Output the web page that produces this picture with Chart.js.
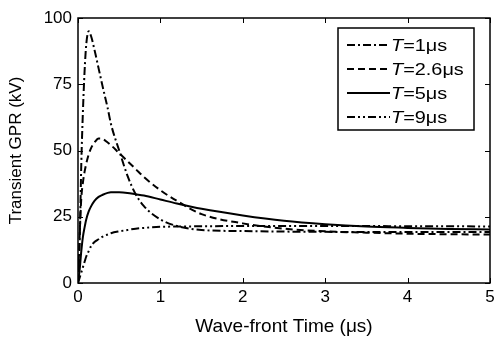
<!DOCTYPE html>
<html>
<head>
<meta charset="utf-8">
<script src="https://cdn.jsdelivr.net/npm/chart.js@4/dist/chart.umd.min.js"></script>
<style>
html,body{margin:0;padding:0;background:#fff;}
#wrap{width:500px;height:350px;}
</style>
</head>
<body>
<div id="wrap"><canvas id="c" width="500" height="350"></canvas></div>
<script>
const times = [0,0.02,0.04,0.06,0.08,0.1,0.13,0.16,0.2,0.25,0.3,0.36,0.4,0.5,0.6,0.7,0.8,1.0,1.2,1.5,2,2.5,3,3.5,4,4.5,5];
const gprT1   = [0,15,45,65,80,90,95,93,88,81,74,66,60,50,40.5,33.5,29,24,21.5,20,19.6,19.4,19.3,19.2,19.2,19.2,19.2];
const gprT2_6 = [0,18,32,38,42,45,48.5,51,53,54.5,54.3,53,52,49,46,43,40,35,31,26,22.5,20.5,19.5,19,18.6,18.4,18.3];
const gprT5   = [0,5,12,17.5,21,24,27,29,31,32.5,33.3,34,34.2,34.2,34,33.5,33,31.5,30,28,25.5,23.5,22.2,21.3,20.8,20.4,20.2];
const gprT9   = [0,2,4,6,8,10,12,14,15.5,16.5,17.5,18.3,18.8,19.5,20,20.5,20.8,21.2,21.3,21.4,21.5,21.5,21.5,21.5,21.4,21.4,21.3];
const seriesNames = ["1\u03BCs","2.6\u03BCs","5\u03BCs","9\u03BCs"];
const xTicks = [0,1,2,3,4,5];
const yTicks = [0,25,50,75,100];

const FONT = "'Liberation Sans', Arial, sans-serif";
function pts(ys){ return times.map((t,i)=>({x:t,y:ys[i]})); }
const dashes = [[8,3,2,3],[7,4],[],[8,3,2,3,2,3]];
const allSeries = [gprT1,gprT2_6,gprT5,gprT9];

const datasets = allSeries.map((s,i)=>({
  label: seriesNames[i],
  data: pts(s),
  borderColor:'#000',
  borderWidth:2,
  borderDash:dashes[i],
  pointRadius:0,
  fill:false,
  cubicInterpolationMode:'monotone'
}));

const frame = {
  id:'frame',
  afterDraw(chart){
    const ctx = chart.ctx;
    const {left,right,top,bottom} = chart.chartArea;
    const xs = chart.scales.x, ys = chart.scales.y;
    ctx.save();
    ctx.strokeStyle='#000';
    ctx.lineWidth=1.5;
    ctx.setLineDash([]);
    ctx.strokeRect(left,top,right-left,bottom-top);
    ctx.lineWidth=1;
    const L=5;
    ctx.beginPath();
    xTicks.forEach(v=>{
      const p=Math.round(xs.getPixelForValue(v))+0.5;
      ctx.moveTo(p,bottom);ctx.lineTo(p,bottom-L);
      ctx.moveTo(p,top);ctx.lineTo(p,top+L);
    });
    yTicks.forEach(v=>{
      const p=Math.round(ys.getPixelForValue(v))+0.5;
      ctx.moveTo(left,p);ctx.lineTo(left+L,p);
      ctx.moveTo(right,p);ctx.lineTo(right-L,p);
    });
    ctx.stroke();
    // legend
    const bx=338,by=28,bw=136,bh=102;
    ctx.fillStyle='#fff';
    ctx.fillRect(bx,by,bw,bh);
    ctx.lineWidth=1.5;
    ctx.strokeRect(bx,by,bw,bh);
    chart.data.datasets.forEach((d,i)=>{
      const y=by+17+i*24;
      ctx.beginPath();
      ctx.lineWidth=2;
      ctx.setLineDash(d.borderDash);
      ctx.moveTo(bx+9,y);ctx.lineTo(bx+52,y);
      ctx.stroke();
      ctx.setLineDash([]);
      ctx.fillStyle='#000';
      ctx.textBaseline='middle';
      ctx.textAlign='left';
      ctx.save();
      ctx.translate(bx+53,y+1);
      ctx.scale(1.17,1);
      ctx.font='italic 17px '+FONT;
      ctx.fillText('T',0,0);
      const tw=ctx.measureText('T').width;
      ctx.font='17px '+FONT;
      ctx.fillText('='+d.label,tw,0);
      ctx.restore();
    });
    ctx.restore();
  }
};

new Chart(document.getElementById('c'),{
  type:'line',
  data:{datasets},
  plugins:[frame],
  options:{
    responsive:false,
    animation:false,
    events:[],
    layout:{padding:{top:18,right:10,left:0,bottom:0}},
    plugins:{legend:{display:false},tooltip:{enabled:false}},
    scales:{
      x:{
        type:'linear',min:0,max:5,
        afterBuildTicks(s){ s.ticks = xTicks.map(v=>({value:v})); },
        afterFit(s){ s.height=67; },
        grid:{display:false,drawTicks:false},
        border:{display:false},
        ticks:{color:'#000',font:{family:FONT,size:17},padding:4,maxRotation:0},
        title:{display:true,text:'Wave-front Time (\u03BCs)',color:'#000',font:{family:FONT,size:19},padding:{top:4,bottom:12}}
      },
      y:{
        type:'linear',min:0,max:100,
        afterBuildTicks(s){ s.ticks = yTicks.map(v=>({value:v})); },
        afterFit(s){ s.width=78; },
        grid:{display:false,drawTicks:false},
        border:{display:false},
        ticks:{color:'#000',font:{family:FONT,size:17},padding:6},
        title:{display:true,text:'Transient GPR (kV)',color:'#000',font:{family:FONT,size:17},padding:{top:6,bottom:4}}
      }
    }
  }
});
</script>
</body>
</html>
